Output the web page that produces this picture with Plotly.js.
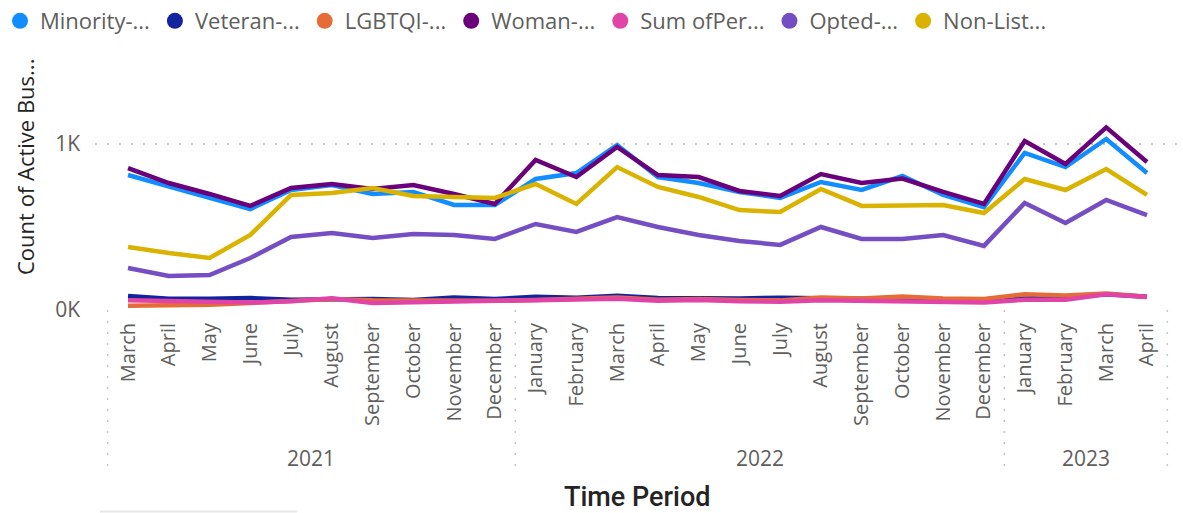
<!DOCTYPE html>
<html>
<head>
<meta charset="utf-8">
<script src="https://cdn.plot.ly/plotly-3.0.1.min.js"></script>
<style>html,body{margin:0;padding:0;background:#fff;}#chart{width:1183px;height:513px;}</style>
</head>
<body>
<div id="chart"></div>
<script>
// ---- data ----
const months = ["March","April","May","June","July","August","September","October","November","December",
  "January","February","March","April","May","June","July","August","September","October","November","December",
  "January","February","March","April"];
const yearNames = ["2021","2022","2023"];
const yearCounts = [10, 12, 4];
const seriesNames = ["Minority-...","Veteran-...","LGBTQI-...","Woman-...","Sum ofPer...","Opted-...","Non-List..."];
const minority = [813,741,675,608,723,753,699,711,633,633,789,825,994,801,765,711,675,771,723,807,693,620,946,861,1030,825];
const veteran  = [85,68,68,72,62,64,66,60,75,66,80,74,86,72,68,70,74,70,68,60,62,50,70,75,95,80];
const lgbtqi   = [25,28,32,42,55,66,58,55,56,55,60,66,76,62,66,60,58,75,70,82,70,66,95,88,100,80];
const woman    = [855,765,699,627,735,759,729,753,699,639,904,801,982,813,801,717,687,819,765,792,711,639,1018,880,1100,892];
const sumPer   = [58,52,50,45,52,70,42,46,48,50,55,60,68,56,60,52,50,58,55,48,46,45,62,62,95,78];
const opted    = [253,205,211,313,440,464,434,458,452,428,518,470,560,500,452,416,392,500,428,428,452,386,645,524,663,572];
const nonListed= [380,343,313,452,693,705,735,687,681,675,759,639,861,741,681,602,590,729,627,627,633,584,789,723,849,693];
const yTickVals = [0, 1000];
const yTickText = ["0K", "1K"];

// ---- styles ----
const colors = ["#118DFF","#12239E","#E66C37","#6B007B","#E044A7","#744EC2","#D9B300"];
const allSeries = [minority, veteran, lgbtqi, woman, sumPer, opted, nonListed];
const xIdx = months.map((_, i) => i);
const grey = "#605E5C";
const dark = "#252423";
const FONT = "Open Sans, sans-serif";

const traces = [];
allSeries.forEach((vals, k) => {
  traces.push({
    type: "scatter", mode: "lines", x: xIdx, y: vals, name: seriesNames[k],
    line: {color: colors[k], width: 4.5, shape: "linear"}, showlegend: false, hoverinfo: "skip"
  });
});
// legend entries (circle markers)
seriesNames.forEach((n, k) => {
  traces.push({
    type: "scatter", mode: "markers", x: [null], y: [null], name: n,
    marker: {color: colors[k], size: 16, symbol: "circle"}, showlegend: true
  });
});

// year groups
const annotations = [];
const shapes = [];
let start = 0;
const divs = [-0.5];
yearNames.forEach((yr, j) => {
  const end = start + yearCounts[j] - 1;
  annotations.push({
    xref: "x", yref: "paper", x: (start + end) / 2, y: -0.592, text: yr, showarrow: false,
    xanchor: "center", yanchor: "middle", font: {family: FONT, size: 21, color: grey}
  });
  divs.push(end + 0.5);
  start = end + 1;
});
divs.forEach(d => {
  shapes.push({type: "line", xref: "x", yref: "paper", x0: d, x1: d, y0: 0, y1: -0.655,
    line: {color: "#C8C6C4", width: 1.5, dash: "2px,9px"}});
});
// faint scrollbar at bottom
shapes.push({type: "line", xref: "paper", yref: "paper", x0: (100-95)/1085, x1: (297-95)/1085,
  y0: -0.806, y1: -0.806, line: {color: "#E6E6E6", width: 2}});

annotations.push({
  xref: "paper", yref: "paper", x: (25-95)/1085, y: (310-167)/250, text: "Count of Active Bus...",
  textangle: -90, showarrow: false, xanchor: "center", yanchor: "middle",
  font: {family: FONT, size: 22, color: dark}
});
annotations.push({
  xref: "paper", yref: "paper", x: (637-95)/1085, y: (310-497)/250, text: "Time Period",
  showarrow: false, xanchor: "center", yanchor: "middle",
  font: {family: "Roboto, sans-serif", size: 27, color: dark, weight: 500}
});

const layout = {
  width: 1183, height: 513,
  margin: {l: 95, r: 3, t: 60, b: 203, pad: 0},
  paper_bgcolor: "#fff", plot_bgcolor: "#fff",
  showlegend: true,
  legend: {
    orientation: "h", xref: "container", yref: "container", x: 0, y: 1, xanchor: "left", yanchor: "top",
    font: {family: FONT, size: 22, color: grey}, itemwidth: 30, tracegroupgap: 0,
    bgcolor: "rgba(0,0,0,0)"
  },
  xaxis: {
    range: [-0.81, 25.81], tickmode: "array", tickvals: xIdx, ticktext: months,
    tickangle: -90, tickfont: {family: FONT, size: 20, color: grey},
    showgrid: false, zeroline: false, showline: false, ticks: "", ticklabelstandoff: 8, fixedrange: true
  },
  yaxis: {
    range: [0, 1506], tickmode: "array", tickvals: yTickVals, ticktext: yTickText,
    tickfont: {family: FONT, size: 21, color: grey},
    showgrid: true, gridcolor: "#C8C6C4", gridwidth: 1.5, griddash: "2px,10px",
    zeroline: false, showline: false, ticks: "", ticklabelstandoff: 14, fixedrange: true
  },
  annotations: annotations,
  shapes: shapes
};

Plotly.newPlot("chart", traces, layout, {displayModeBar: false, staticPlot: true});
</script>
</body>
</html>
